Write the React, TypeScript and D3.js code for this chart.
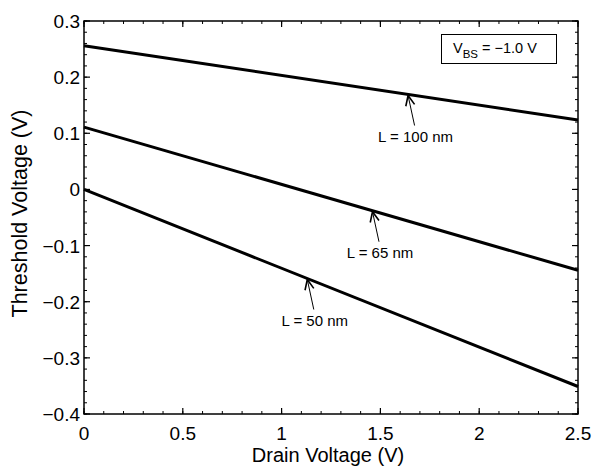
import React from "react";
import * as d3 from "d3";

const W = 593;
const H = 466;
const M = { left: 84, right: 578, top: 21, bottom: 414 };

// Data
const drainVoltage = [0, 2.5];
const vt100 = [0.256, 0.1235];
const vt65 = [0.111, -0.144];
const vt50 = [0.0, -0.351];
const seriesLabels = ["L = 100 nm", "L = 65 nm", "L = 50 nm"];
const annotX = [1.64, 1.46, 1.13];
const xTicks = [0, 0.5, 1, 1.5, 2, 2.5];
const yTicks = [0.3, 0.2, 0.1, 0, -0.1, -0.2, -0.3, -0.4];
const legendText = "V";

const FONT = "'Liberation Sans', Arial, Helvetica, sans-serif";

export default function App() {
  const x = d3.scaleLinear().domain([0, 2.5]).range([M.left, M.right]);
  const y = d3.scaleLinear().domain([-0.4, 0.3]).range([M.bottom, M.top]);
  const line = d3
    .line<[number, number]>()
    .x((d) => x(d[0]))
    .y((d) => y(d[1]));
  const series = [vt100, vt65, vt50];

  const xMinor = d3.range(0, 2.5001, 0.1);
  const yMinor = d3.range(-0.4, 0.30001, 0.02);

  const fmt = (v: number) => {
    if (Math.abs(v) < 1e-9) return "0";
    const s = v.toString();
    return v < 0 ? "\u2212" + s.slice(1) : s;
  };

  const interp = (s: number[], xv: number) => s[0] + ((s[1] - s[0]) * (xv - drainVoltage[0])) / (drainVoltage[1] - drainVoltage[0]);

  return (
    <svg width={W} height={H} style={{ position: "absolute", left: 0, top: 0, background: "#fff" }} fontFamily={FONT}>
      <rect x={0} y={0} width={W} height={H} fill="#fff" />
      {xMinor.map((v, i) => (
        <g key={"xm" + i} stroke="#000" strokeWidth={1}>
          <line x1={x(v)} x2={x(v)} y1={M.bottom} y2={M.bottom - 3} />
          <line x1={x(v)} x2={x(v)} y1={M.top} y2={M.top + 3} />
        </g>
      ))}
      {yMinor.map((v, i) => (
        <g key={"ym" + i} stroke="#000" strokeWidth={1}>
          <line x1={M.left} x2={M.left + 3} y1={y(v)} y2={y(v)} />
          <line x1={M.right} x2={M.right - 3} y1={y(v)} y2={y(v)} />
        </g>
      ))}
      {xTicks.map((v) => (
        <g key={"x" + v}>
          <line x1={x(v)} x2={x(v)} y1={M.bottom} y2={M.bottom - 6} stroke="#000" strokeWidth={1.2} />
          <line x1={x(v)} x2={x(v)} y1={M.top} y2={M.top + 6} stroke="#000" strokeWidth={1.2} />
          <text x={x(v)} y={440} textAnchor="middle" fontSize={19}>
            {fmt(v)}
          </text>
        </g>
      ))}
      {yTicks.map((v) => (
        <g key={"y" + v}>
          <line x1={M.left} x2={M.left + 6} y1={y(v)} y2={y(v)} stroke="#000" strokeWidth={1.2} />
          <line x1={M.right} x2={M.right - 6} y1={y(v)} y2={y(v)} stroke="#000" strokeWidth={1.2} />
          <text x={80} y={y(v) + 7} textAnchor="end" fontSize={19}>
            {fmt(v)}
          </text>
        </g>
      ))}
      <rect x={M.left} y={M.top} width={M.right - M.left} height={M.bottom - M.top} fill="none" stroke="#000" strokeWidth={1.5} />
      {series.map((s, i) => (
        <path
          key={"s" + i}
          d={line(drainVoltage.map((dv, j) => [dv, s[j]] as [number, number])) || ""}
          fill="none"
          stroke="#000"
          strokeWidth={3}
        />
      ))}
      {series.map((s, i) => {
        const tx = x(annotX[i]);
        const ty = y(interp(s, annotX[i])) + 1;
        const bx = tx + 6.5;
        const by = ty + 30;
        const ang = Math.atan2(ty - by, tx - bx);
        const hl = 11;
        const hw = 0.42;
        const p1 = [tx - hl * Math.cos(ang - hw), ty - hl * Math.sin(ang - hw)];
        const p2 = [tx - hl * Math.cos(ang + hw), ty - hl * Math.sin(ang + hw)];
        return (
          <g key={"a" + i}>
            <line x1={bx} y1={by} x2={tx} y2={ty} stroke="#000" strokeWidth={1} />
            <polyline points={`${p1[0]},${p1[1]} ${tx},${ty} ${p2[0]},${p2[1]}`} fill="none" stroke="#000" strokeWidth={1.6} />
            <text x={bx + 1} y={by + 16} textAnchor="middle" fontSize={15}>
              {seriesLabels[i]}
            </text>
          </g>
        );
      })}
      <rect x={441.5} y={34.5} width={115} height={29} fill="#fff" stroke="#000" strokeWidth={1} />
      <text x={453} y={53} fontSize={14.5}>
        {legendText}
        <tspan dy={5} fontSize={11.5}>BS</tspan>
        <tspan dy={-5}>{" = \u22121.0 V"}</tspan>
      </text>
      <text x={(M.left + M.right) / 2 - 3} y={462} textAnchor="middle" fontSize={20}>
        Drain Voltage (V)
      </text>
      <text transform={`translate(27, ${(M.top + M.bottom) / 2 - 4}) rotate(-90)`} textAnchor="middle" fontSize={21.5}>
        Threshold Voltage (V)
      </text>
    </svg>
  );
}
